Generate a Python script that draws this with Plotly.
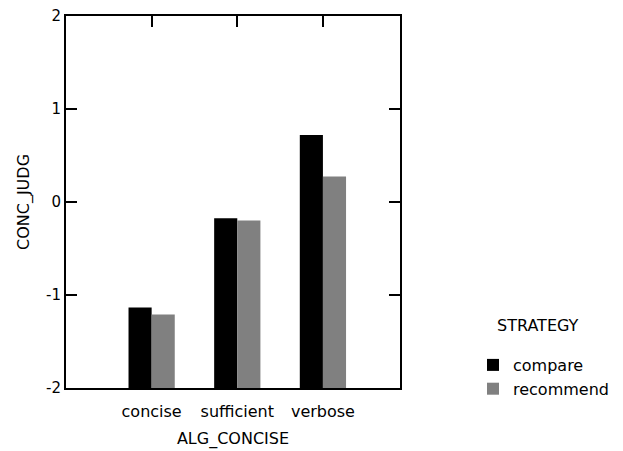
import plotly.graph_objects as go

categories = ["concise", "sufficient", "verbose"]
compare = [-1.135, -0.175, 0.72]
recommend = [-1.21, -0.20, 0.275]
series_names = ["compare", "recommend"]
legend_title = "STRATEGY"
y_ticks = [-2, -1, 0, 1, 2]
base_value = -2

# The page body adds an 8px offset; margins compensate so the plot box sits at
# window x 66..400, y 16..388.
OFF = 8
PL, PR, PT, PB = 66, 400, 16, 388
W, H = 623, 451
PW, PH = PR - PL, PB - PT

def px(xw):
    return (xw - PL) / PW

def py(yw):
    return (PB - yw) / PH

font = dict(family="DejaVu Sans, Liberation Sans, sans-serif", size=16, color="black")
ytick_font = dict(font, size=15)

fig = go.Figure()
for name, vals, col in [(series_names[0], compare, "black"), (series_names[1], recommend, "#808080")]:
    fig.add_trace(go.Bar(
        x=categories, y=[v - base_value for v in vals], base=base_value,
        name=name, marker=dict(color=col, line=dict(width=0)),
    ))

fig.update_layout(
    width=W, height=H,
    margin=dict(l=PL - OFF, r=W - (PR - OFF), t=PT - OFF, b=H - (PB - OFF), autoexpand=False),
    paper_bgcolor="white", plot_bgcolor="white",
    font=font,
    barmode="group", bargap=0.46, bargroupgap=0,
    showlegend=True,
    legend=dict(
        x=px(473), xanchor="left", y=py(348), yanchor="top",
        font=font, itemwidth=30, tracegroupgap=0,
        bgcolor="rgba(0,0,0,0)",
    ),
    xaxis=dict(
        range=[-1.0, 2.9], showline=True, linecolor="black", linewidth=2,
        mirror=True, ticks="", showgrid=False, zeroline=False,
        title=dict(text="ALG_CONCISE", font=font, standoff=13),
        tickfont=font, automargin=False, ticklabelstandoff=8,
        ticklabeloverflow="allow",
    ),
    xaxis2=dict(
        overlaying="x", matches="x", side="top", ticks="inside", ticklen=11,
        tickcolor="black", tickwidth=2, showticklabels=False, showgrid=False,
        zeroline=False, showline=False, automargin=False,
    ),
    yaxis=dict(
        range=[-2, 2], tickvals=y_ticks, ticktext=[str(t) for t in y_ticks],
        showline=True, linecolor="black", linewidth=2, mirror="ticks",
        ticks="inside", ticklen=11, tickcolor="black", tickwidth=2,
        showgrid=False, zeroline=False,
        title=dict(text="CONC_JUDG", font=font, standoff=12),
        tickfont=ytick_font, automargin=False, ticklabeloverflow="allow",
    ),
    annotations=[dict(
        text=legend_title, xref="paper", yref="paper", x=px(495), y=py(325),
        xanchor="left", yanchor="middle", showarrow=False, font=font,
    )],
)
fig.add_trace(go.Bar(x=categories, y=[None] * len(categories), xaxis="x2",
                     showlegend=False, hoverinfo="skip"))

fig.write_html("out.html")
